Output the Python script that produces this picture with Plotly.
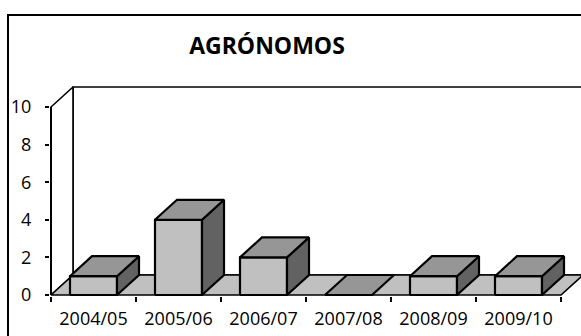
import plotly.graph_objects as go

# ---- data -------------------------------------------------------------
categories = ["2004/05", "2005/06", "2006/07", "2007/08", "2008/09", "2009/10"]
values = [1, 4, 2, 0, 1, 1]
y_ticks = [0, 2, 4, 6, 8, 10]
title_text = "AGRÓNOMOS"

# ---- geometry / style -------------------------------------------------
W, H = 581, 336
M_L, M_R, M_T, M_B = 50, 0, 80, 40
CAT_PX = 85.0      # pixels per category
UNIT_PX = 18.8     # pixels per value unit
ORIGIN_X = 51.0    # pixel of the floor's front-left corner
ORIGIN_Y = 295.0

DX = 22 / CAT_PX   # 3D depth offset (x, in category units)
DY = 20 / UNIT_PX  # 3D depth offset (y, in value units)
HALF_W = 23.5 / CAT_PX

FRONT = "#c0c0c0"
TOP = "#969696"
SIDE = "#626262"
WALL = "#ffffff"
FONT = "Open Sans"

plot_w = W - M_L - M_R
plot_h = H - M_T - M_B
x_range = [-0.5 + (M_L - ORIGIN_X) / CAT_PX, -0.5 + (W - M_R - ORIGIN_X) / CAT_PX]
y_range = [(ORIGIN_Y - (H - M_B)) / UNIT_PX, (ORIGIN_Y - M_T) / UNIT_PX]


def poly(xs, ys, fill, width=1.6):
    return go.Scatter(
        x=list(xs) + [xs[0]], y=list(ys) + [ys[0]],
        mode="lines", fill="toself", fillcolor=fill,
        line=dict(color="black", width=width),
        hoverinfo="skip", showlegend=False,
    )


fig = go.Figure()

n = len(categories)
left, right = -0.5, n - 0.5
top_v = max(y_ticks)

# back wall, side wall and floor
fig.add_trace(poly([left + DX, right + DX, right + DX, left + DX],
                   [DY, DY, top_v + DY, top_v + DY], WALL))
fig.add_trace(poly([left, left + DX, left + DX, left],
                   [0, DY, top_v + DY, top_v], WALL))
fig.add_trace(poly([left, right, right + DX, left + DX],
                   [0, 0, DY, DY], FRONT))

# value axis line
fig.add_trace(go.Scatter(x=[left, left], y=[0, top_v], mode="lines",
                         line=dict(color="black", width=2),
                         hoverinfo="skip", showlegend=False))

# 3D columns, drawn left to right
for i, v in enumerate(values):
    xl, xr = i - HALF_W, i + HALF_W
    if v > 0:
        fig.add_trace(poly([xl, xr, xr, xl], [0, 0, v, v], FRONT, 2.2))
        fig.add_trace(poly([xr, xr + DX, xr + DX, xr],
                           [0, DY, v + DY, v], SIDE, 2.2))
    fig.add_trace(poly([xl, xr, xr + DX, xl + DX],
                       [v, v, v + DY, v + DY], TOP, 2.2))

# outer chart border
fig.add_shape(type="rect", xref="paper", yref="paper",
              x0=(8 - M_L) / plot_w, x1=(620 - M_L) / plot_w,
              y0=((H - M_B) - 380) / plot_h, y1=((H - M_B) - 15) / plot_h,
              line=dict(color="black", width=2), fillcolor="rgba(0,0,0,0)",
              layer="above")

fig.update_layout(
    width=W, height=H,
    margin=dict(l=M_L, r=M_R, t=M_T, b=M_B, pad=0),
    paper_bgcolor="white", plot_bgcolor="white",
    showlegend=False,
    title=dict(text=title_text, x=267 / W, xanchor="center",
               y=1 - 46 / H, yanchor="middle",
               font=dict(family=FONT, size=23, color="black", weight="bold")),
    xaxis=dict(
        range=x_range, showgrid=False, zeroline=False, showline=False,
        tickmode="array", tickvals=list(range(n)), ticktext=categories,
        ticks="", tickfont=dict(family=FONT, size=18, color="black"),
        ticklabelstandoff=10,
        minor=dict(tickmode="array", tickvals=[i + 0.5 for i in range(-1, n)],
                   ticks="outside", ticklen=5, tickwidth=1.5,
                   tickcolor="black", showgrid=False),
    ),
    yaxis=dict(
        range=y_range, showgrid=False, zeroline=False, showline=False,
        tickmode="array", tickvals=y_ticks,
        ticks="outside", ticklen=4, tickwidth=1.5, tickcolor="black",
        tickfont=dict(family=FONT, size=18, color="black"),
        ticklabelstandoff=10,
    ),
)

fig.write_html("out.html")
